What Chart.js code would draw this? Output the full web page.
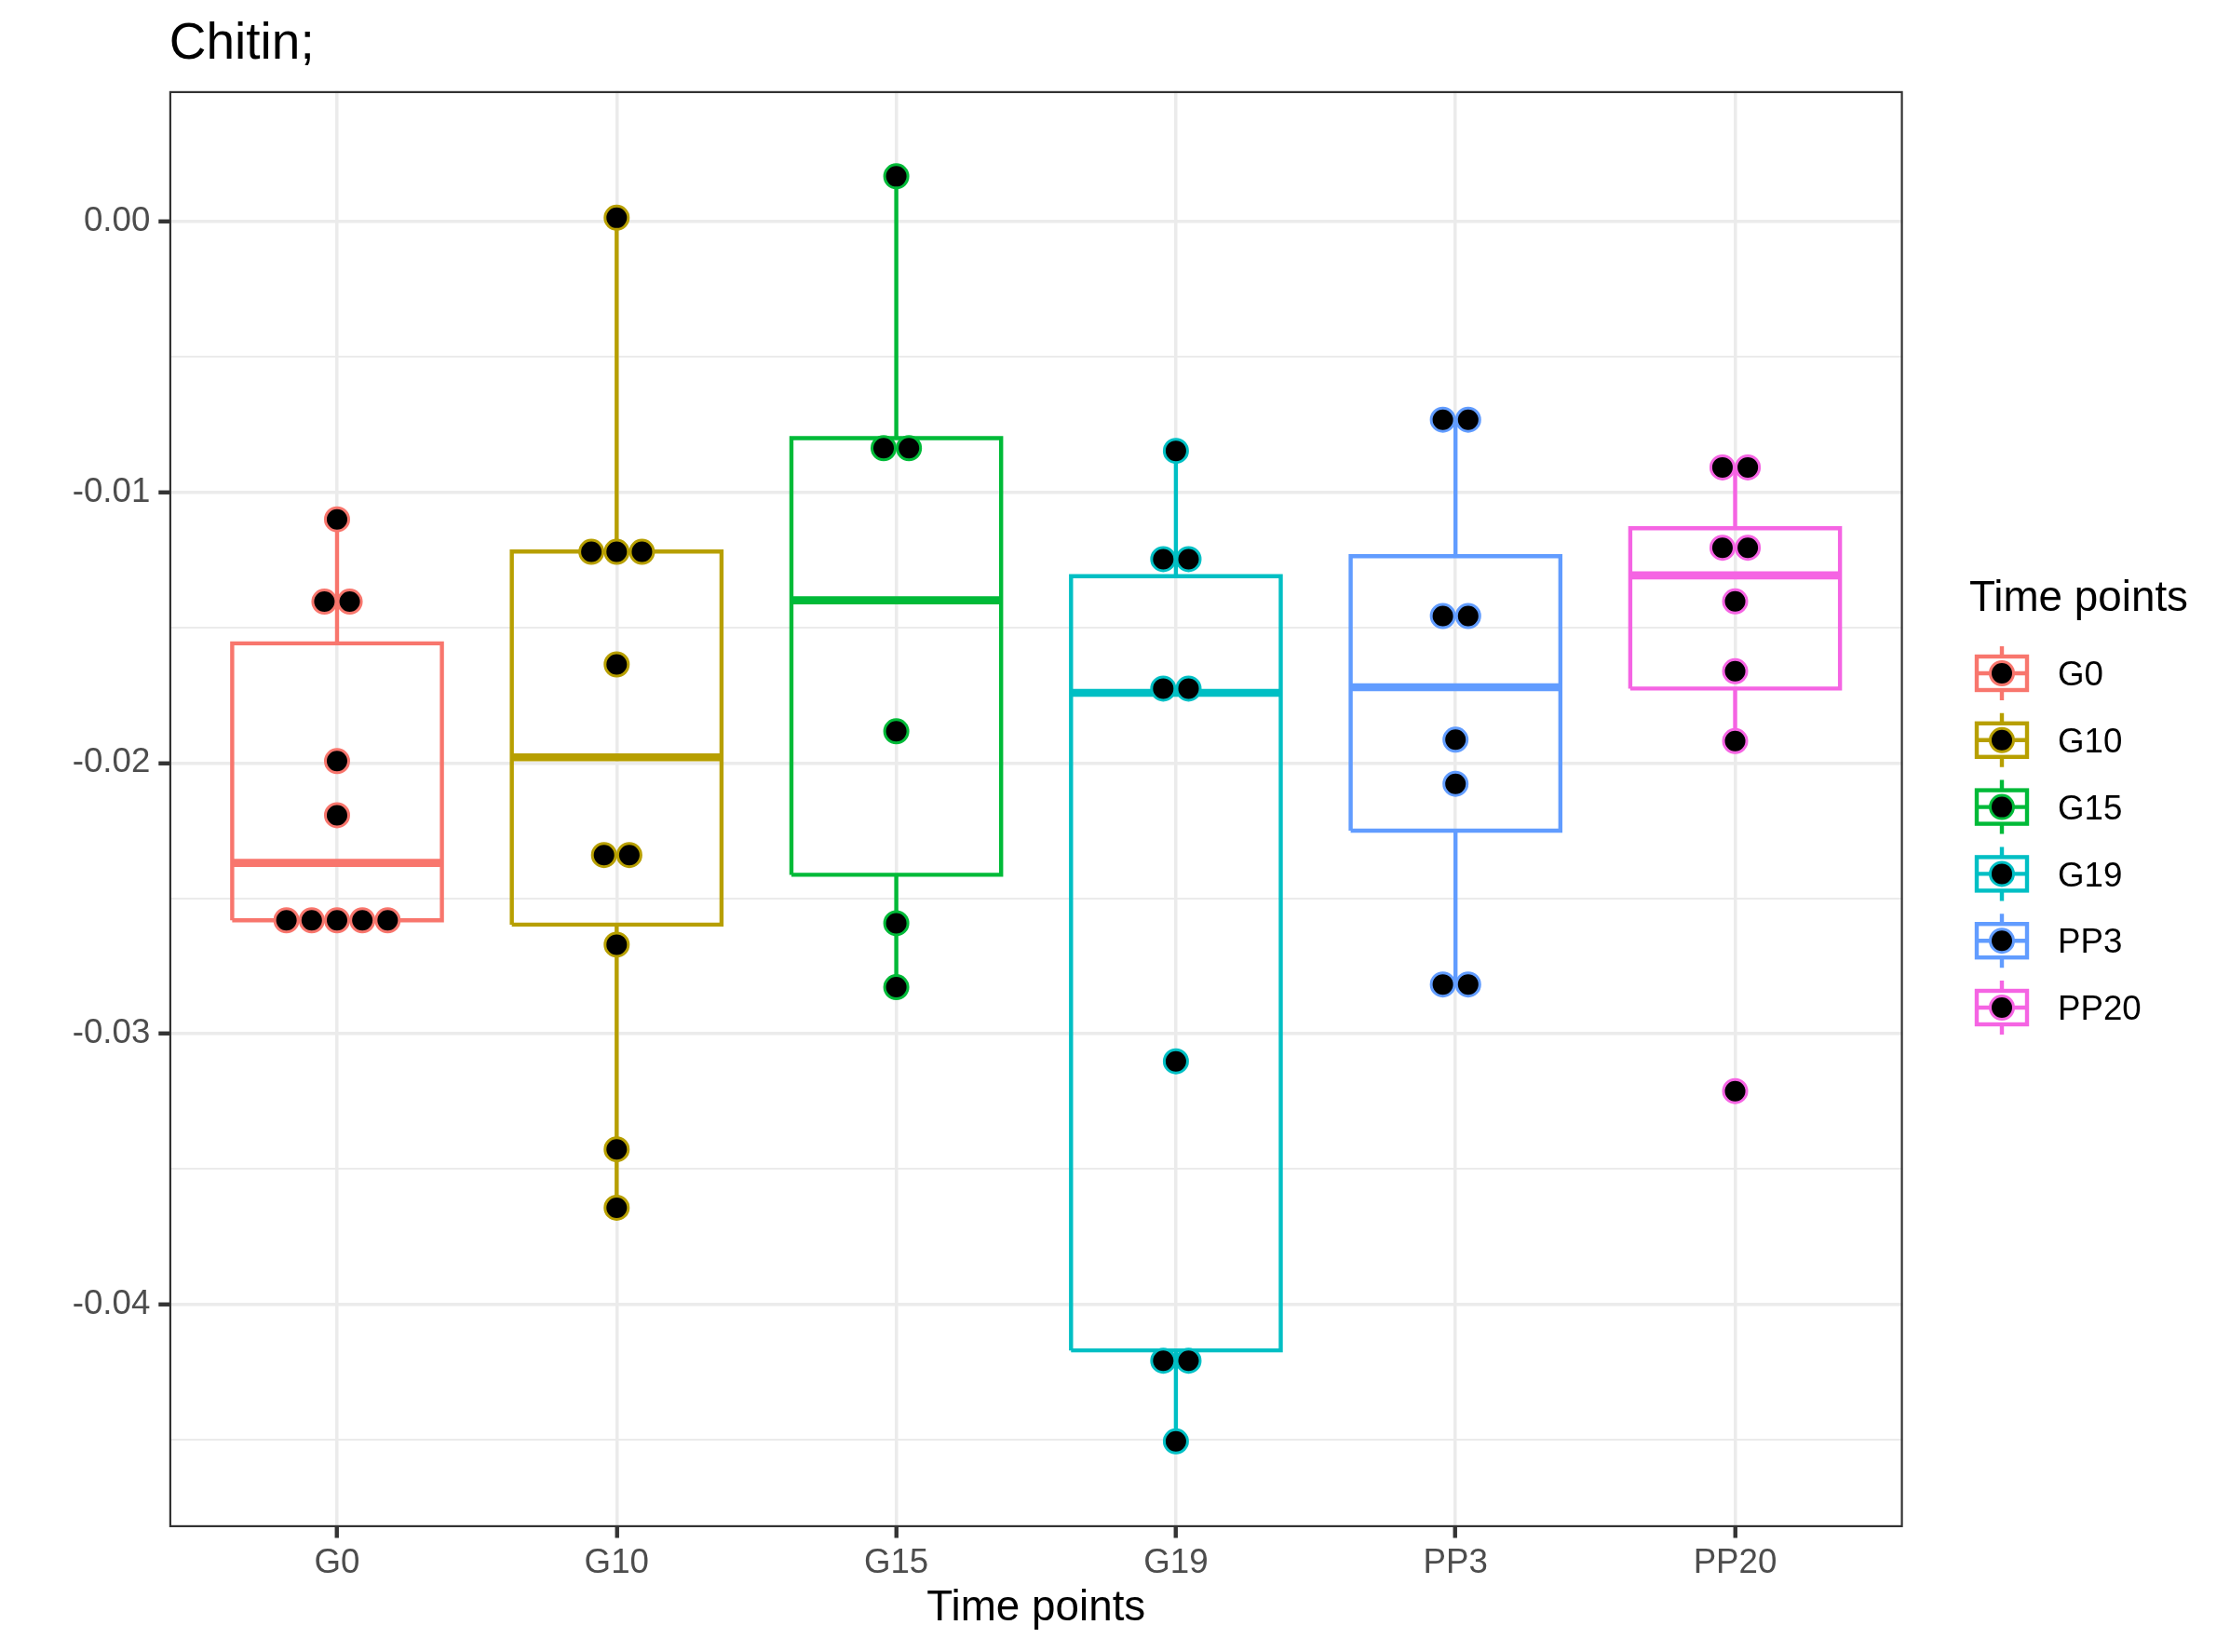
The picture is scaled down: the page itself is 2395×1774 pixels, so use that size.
<!DOCTYPE html>
<html>
<head>
<meta charset="utf-8">
<title>Chitin;</title>
<script src="https://cdn.jsdelivr.net/npm/chart.js@4.4.1/dist/chart.umd.min.js"></script>
<style>
  html, body { margin: 0; padding: 0; background: #ffffff; }
  #wrap { width: 2395px; height: 1774px; }
</style>
</head>
<body>
<div id="wrap"><canvas id="boxChart" width="2395" height="1774"></canvas></div>
<script>
// categories and colours (ggplot hue palette)
const groups = ["G0", "G10", "G15", "G19", "PP3", "PP20"];
const colors = ["#F8766D", "#B79F00", "#00BA38", "#00BFC4", "#619CFF", "#F564E3"];

// box stats
const lowerWhisker = [-0.02581, -0.03643, -0.02828, -0.0451, -0.02818, -0.01919];
const q1 = [-0.02581, -0.02597, -0.02413, -0.0417, -0.0225, -0.01725];
const medians = [-0.02369, -0.01979, -0.01399, -0.01741, -0.0172, -0.01307];
const q3 = [-0.01558, -0.01219, -0.008, -0.0131, -0.01236, -0.01133];
const upperWhisker = [-0.011, 0.00014, 0.00167, -0.00847, -0.00732, -0.00908];

// dot rows: value of each row and how many dots sit side by side in it
const dotValues = [
  [-0.011, -0.01404, -0.01993, -0.02193, -0.02581],
  [0.00014, -0.0122, -0.01636, -0.0234, -0.02671, -0.03427, -0.03643],
  [0.00167, -0.00837, -0.01883, -0.02592, -0.02828],
  [-0.00847, -0.01247, -0.01725, -0.03102, -0.04208, -0.04506],
  [-0.00732, -0.01457, -0.01914, -0.02077, -0.02818],
  [-0.00908, -0.01205, -0.01403, -0.01661, -0.01919, -0.03212]
];
const dotCounts = [
  [1, 2, 1, 1, 5],
  [1, 3, 1, 2, 1, 1, 1],
  [1, 2, 1, 1, 1],
  [1, 2, 2, 1, 2, 1],
  [2, 2, 1, 1, 2],
  [2, 2, 1, 1, 1, 1]
];

// axis ticks
const yTicks = [0, -0.01, -0.02, -0.03, -0.04];
const yMinorTicks = [-0.005, -0.015, -0.025, -0.035, -0.045];

const boxHalf = 0.375;   // box width 0.75 of a category
const dotStep = 0.0905;  // dots stacked side by side

function dotPoints(i) {
  const pts = [];
  dotValues[i].forEach((v, k) => {
    const n = dotCounts[i][k];
    for (let j = 0; j < n; j++) {
      pts.push({ x: i + 1 + (j - (n - 1) / 2) * dotStep, y: v });
    }
  });
  return pts;
}

function buildDatasets() {
  const sets = [];
  groups.forEach((g, i) => {
    const c = i + 1;
    // whiskers
    sets.push({
      type: "line",
      label: g + " whisker",
      data: [
        { x: c, y: q3[i] }, { x: c, y: upperWhisker[i] }, { x: c, y: null },
        { x: c, y: q1[i] }, { x: c, y: lowerWhisker[i] }
      ],
      borderColor: colors[i],
      borderWidth: 4.4,
      pointRadius: 0,
      spanGaps: false,
      order: 4
    });
    // box
    sets.push({
      type: "line",
      label: g + " box",
      data: [
        { x: c - boxHalf, y: q1[i] }, { x: c + boxHalf, y: q1[i] },
        { x: c + boxHalf, y: q3[i] }, { x: c - boxHalf, y: q3[i] },
        { x: c - boxHalf, y: q1[i] }
      ],
      borderColor: colors[i],
      borderWidth: 4.4,
      borderJoinStyle: "miter",
      pointRadius: 0,
      order: 3
    });
    // median
    sets.push({
      type: "line",
      label: g + " median",
      data: [{ x: c - boxHalf, y: medians[i] }, { x: c + boxHalf, y: medians[i] }],
      borderColor: colors[i],
      borderWidth: 8.6,
      borderCapStyle: "butt",
      pointRadius: 0,
      order: 2
    });
    // dots
    sets.push({
      type: "scatter",
      label: g,
      data: dotPoints(i),
      pointRadius: 12.5,
      pointBorderWidth: 3,
      pointBackgroundColor: "#000000",
      pointBorderColor: colors[i],
      showLine: false,
      order: 1
    });
  });
  return sets;
}

// panel border and the legend on the right
const panelAndLegend = {
  id: "panelAndLegend",
  afterDraw(chart) {
    const ctx = chart.ctx;
    const a = chart.chartArea;
    ctx.save();
    ctx.strokeStyle = "#333333";
    ctx.lineWidth = 2.2;
    ctx.strokeRect(a.left + 1.1, a.top + 1.1, a.right - a.left - 2.2, a.bottom - a.top - 2.2);

    const font = '"Liberation Sans", Arial, sans-serif';
    ctx.fillStyle = "#000000";
    ctx.textBaseline = "alphabetic";
    ctx.textAlign = "left";
    ctx.font = "45.8px " + font;
    ctx.fillText("Time points", 2115, 656);

    const keyX = 2150;
    groups.forEach((g, i) => {
      const yc = 723 + i * 71.8;
      ctx.strokeStyle = colors[i];
      ctx.lineWidth = 4.4;
      ctx.lineCap = "butt";
      ctx.beginPath();
      ctx.moveTo(keyX, yc - 29);
      ctx.lineTo(keyX, yc - 18);
      ctx.moveTo(keyX, yc + 18);
      ctx.lineTo(keyX, yc + 29);
      ctx.moveTo(keyX - 27, yc);
      ctx.lineTo(keyX + 27, yc);
      ctx.stroke();
      ctx.lineJoin = "miter";
      ctx.strokeRect(keyX - 27, yc - 18, 54, 36);
      ctx.beginPath();
      ctx.arc(keyX, yc, 12.5, 0, Math.PI * 2);
      ctx.fillStyle = "#000000";
      ctx.fill();
      ctx.lineWidth = 3;
      ctx.stroke();
      ctx.fillStyle = "#000000";
      ctx.font = "36.7px " + font;
      ctx.fillText(g, 2210, yc + 13.1);
    });
    ctx.restore();
  }
};

Chart.defaults.font.family = '"Liberation Sans", Arial, sans-serif';

const chart = new Chart(document.getElementById("boxChart"), {
  type: "scatter",
  data: { datasets: buildDatasets() },
  plugins: [panelAndLegend],
  options: {
    responsive: false,
    animation: false,
    devicePixelRatio: 1,
    layout: { padding: { left: 0, top: 0, right: 351.3, bottom: 0 } },
    plugins: {
      legend: { display: false },
      tooltip: { enabled: false },
      title: {
        display: true,
        text: "Chitin;",
        align: "start",
        fullSize: false,
        color: "#000000",
        font: { size: 55, weight: "normal" },
        padding: { top: 15, bottom: 16.8 }
      }
    },
    scales: {
      x: {
        type: "linear",
        min: 0.4,
        max: 6.6,
        offset: false,
        afterBuildTicks: (scale) => {
          scale.ticks = groups.map((g, i) => ({ value: i + 1 }));
        },
        afterFit: (scale) => { scale.height = 134; },
        ticks: {
          autoSkip: false,
          maxRotation: 0,
          padding: 5,
          color: "#4D4D4D",
          font: { size: 36.7 },
          callback: (v) => groups[v - 1]
        },
        grid: {
          color: "#EBEBEB",
          lineWidth: 3.5,
          drawTicks: true,
          tickLength: 11.5,
          tickColor: "#333333",
          tickWidth: 4.4
        },
        border: { display: false },
        title: {
          display: true,
          text: "Time points",
          color: "#000000",
          font: { size: 45.8 },
          padding: { top: 0, bottom: 19.5 }
        }
      },
      y: {
        type: "linear",
        min: -0.04823,
        max: 0.00482,
        afterBuildTicks: (scale) => {
          scale.ticks = yMinorTicks.concat(yTicks).sort((a, b) => a - b).map((v) => ({ value: v }));
        },
        afterFit: (scale) => { scale.width = 181.8; },
        ticks: {
          autoSkip: false,
          padding: 9,
          color: "#4D4D4D",
          font: { size: 36.7 },
          callback: (v) => (yTicks.includes(v) ? v.toFixed(2) : "")
        },
        grid: {
          color: "#EBEBEB",
          lineWidth: (ctx) => (ctx.tick && yTicks.includes(ctx.tick.value) ? 3.5 : 2),
          drawTicks: true,
          tickLength: 11.5,
          tickColor: (ctx) => (ctx.tick && yTicks.includes(ctx.tick.value) ? "#333333" : "rgba(0,0,0,0)"),
          tickWidth: 4.4
        },
        border: { display: false }
      }
    }
  }
});
</script>
</body>
</html>
